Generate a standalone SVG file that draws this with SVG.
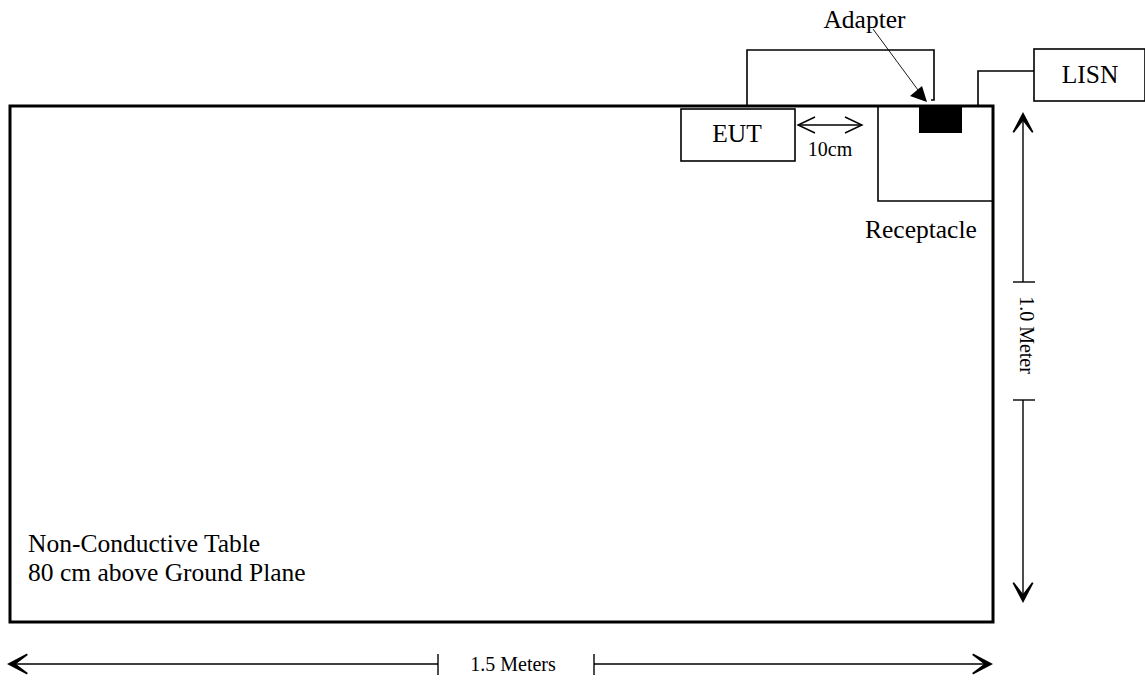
<svg xmlns="http://www.w3.org/2000/svg" width="1145" height="680" viewBox="0 0 1145 680">
<style>
  .t { font-family: "Liberation Serif", "Times New Roman", serif; fill: #000; }
  .big { font-size: 25.5px; }
  .small { font-size: 20px; }
  .box { fill: #fff; stroke: #000; stroke-width: 1.6; }
  .ln { fill: none; stroke: #000; stroke-width: 1.6; }
  .dim { fill: none; stroke: #000; stroke-width: 1.4; }
  .head { fill: #000; stroke: none; }
</style>
<defs>
  <path id="barb" d="M0,0 L-10.5,-20 L-9,-20.8 L0,-9 L9,-20.8 L10.5,-20 Z"/>
</defs>
<rect width="1145" height="680" fill="#fff"/>

<g id="table">
  <rect x="10" y="106" width="983" height="516" fill="#fff" stroke="#000" stroke-width="3"/>
  <text class="t big" x="28" y="552">Non-Conductive Table</text>
  <text class="t big" x="28" y="581">80 cm above Ground Plane</text>
</g>

<g id="receptacle">
  <path class="ln" d="M878,106 L878,201 L993,201"/>
  <text class="t big" x="865" y="238">Receptacle</text>
</g>

<g id="adapter">
  <rect x="919" y="107" width="43" height="26" fill="#000"/>
  <text class="t big" x="864.5" y="28" text-anchor="middle">Adapter</text>
</g>

<g id="eut">
  <rect class="box" x="681" y="109" width="114" height="52"/>
  <text class="t big" x="737" y="142" text-anchor="middle">EUT</text>
</g>

<g id="lisn">
  <rect class="box" x="1034" y="49" width="111" height="52"/>
  <text class="t big" x="1090" y="83" text-anchor="middle">LISN</text>
</g>

<g id="connectors">
  <path class="ln" d="M747,106 L747,50 L934,50 L934,100 L931,100"/>
  <path class="ln" d="M978,106 L978,71 L1034,71"/>
  <line x1="873" y1="29" x2="918" y2="90" stroke="#000" stroke-width="0.9"/>
  <polygon class="head" points="927,102 910,96 922,86"/>
</g>

<g id="dim-10cm">
  <line class="dim" x1="798" y1="125" x2="862" y2="125"/>
  <path class="dim" d="M815,117 L798,125 L815,133"/>
  <path class="dim" d="M845,117 L862,125 L845,133"/>
  <text class="t small" x="830" y="156" text-anchor="middle">10cm</text>
</g>

<g id="dim-vertical">
  <line class="dim" x1="1023" y1="114" x2="1023" y2="282"/>
  <line class="dim" x1="1013" y1="282" x2="1035" y2="282"/>
  <line class="dim" x1="1013" y1="400" x2="1035" y2="400"/>
  <line class="dim" x1="1023" y1="400" x2="1023" y2="600"/>
  <use href="#barb" transform="translate(1023,112) rotate(180)"/>
  <use href="#barb" transform="translate(1023,603)"/>
  <text class="t small" transform="translate(1020,335) rotate(90)" text-anchor="middle">1.0 Meter</text>
</g>

<g id="dim-horizontal">
  <line class="dim" x1="10" y1="664" x2="438" y2="664"/>
  <line class="dim" x1="438" y1="654" x2="438" y2="675"/>
  <line class="dim" x1="594" y1="654" x2="594" y2="675"/>
  <line class="dim" x1="594" y1="664" x2="990" y2="664"/>
  <use href="#barb" transform="translate(7,664) rotate(90)"/>
  <use href="#barb" transform="translate(993,664) rotate(-90)"/>
  <text class="t small" x="513" y="671" text-anchor="middle">1.5 Meters</text>
</g>
</svg>
